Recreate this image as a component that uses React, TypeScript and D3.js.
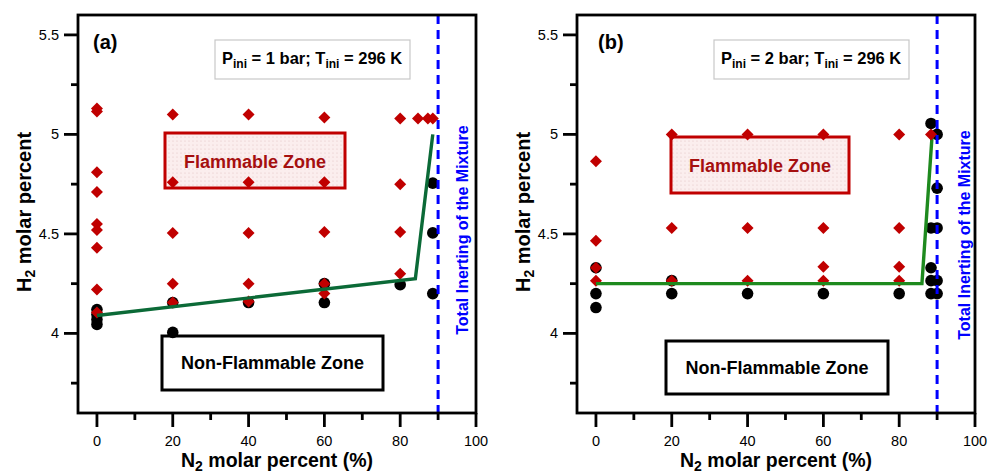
import React from "react";
import * as d3 from "d3";

// ---------- data ----------
type Pt = [number, number];

const xTicksMajor = [0, 20, 40, 60, 80, 100];
const xTicksMinor = [10, 30, 50, 70, 90];
const yTicksMajor = [4, 4.5, 5, 5.5];
const yTicksMinor = [3.75, 4.25, 4.75, 5.25];
const yTickLabels = ["4", "4.5", "5", "5.5"];
const inertLimit = 90;

// Panel (a): P = 1 bar
const flammableA: Pt[] = [
  [0, 5.13], [0, 5.115], [0, 4.81], [0, 4.71], [0, 4.55], [0, 4.52], [0, 4.43], [0, 4.22], [0, 4.105],
  [20, 5.1], [20, 4.76], [20, 4.505], [20, 4.25], [20, 4.155],
  [40, 5.1], [40, 4.76], [40, 4.505], [40, 4.25], [40, 4.16],
  [60, 5.085], [60, 4.76], [60, 4.51], [60, 4.25], [60, 4.2],
  [80, 5.08], [80, 4.75], [80, 4.51], [80, 4.3],
  [84.7, 5.08], [87.3, 5.08], [88.6, 5.08],
];
const nonFlammableA: Pt[] = [
  [0, 4.12], [0, 4.095], [0, 4.07], [0, 4.045],
  [20, 4.155], [20, 4.005],
  [40, 4.155],
  [60, 4.25], [60, 4.155],
  [80, 4.245],
  [88.6, 4.755], [88.6, 4.505], [88.6, 4.2],
];
const limitLineA: Pt[] = [[0, 4.09], [84, 4.275], [88.6, 5.0]];

// Panel (b): P = 2 bar
const flammableB: Pt[] = [
  [0, 4.865], [0, 4.465], [0, 4.33], [0, 4.265],
  [20, 5.0], [20, 4.53], [20, 4.265],
  [40, 5.0], [40, 4.53], [40, 4.265],
  [60, 5.0], [60, 4.53], [60, 4.335], [60, 4.265],
  [80, 5.0], [80, 4.53], [80, 4.335], [80, 4.265],
];
const flammableBTop: Pt[] = [[88.4, 5.0]];
const nonFlammableB: Pt[] = [
  [0, 4.33], [0, 4.2], [0, 4.13],
  [20, 4.265], [20, 4.2],
  [40, 4.2],
  [60, 4.2],
  [80, 4.2],
  [88.4, 5.055], [88.4, 4.53], [88.4, 4.33], [88.4, 4.265], [88.4, 4.2],
  [90, 5.0], [90, 4.73], [90, 4.53], [90, 4.265], [90, 4.2],
];
const limitLineB: Pt[] = [[0, 4.25], [86, 4.25], [88.7, 5.0]];

// ---------- styles ----------
const FONT = "'Liberation Sans', Arial, Helvetica, sans-serif";
const RED = "#c00000";
const DARKRED = "#a50f0f";
const BLUE = "#0000ff";

interface PanelProps {
  id: string;
  ox: number;
  label: string;
  pressure: string;
  flam: Pt[];
  flamTop?: Pt[];
  nonflam: Pt[];
  line: Pt[];
  lineColor: string;
  flamBox: [number, number, number, number, number]; // relx0, relx1, y0, y1, baseline
  nonBox: [number, number, number, number, number];
  labelDx: number;
  blueBase: number;
  blueCy: number;
}

function Panel(p: PanelProps) {
  const W = 398;
  const top = 15;
  const bottom = 413;
  const x = d3.scaleLinear().domain([-5, 100]).range([p.ox, p.ox + W]);
  const y = d3.scaleLinear().domain([3.6, 5.6]).range([bottom, top]);
  const lineGen = d3.line<Pt>().x((d) => x(d[0])).y((d) => y(d[1]));
  const diamond = (d: Pt, i: number) => {
    const cx = x(d[0]);
    const cy = y(d[1]);
    const r = 6;
    return (
      <path
        key={i}
        d={`M${cx},${cy - r}L${cx + r},${cy}L${cx},${cy + r}L${cx - r},${cy}Z`}
        fill={RED}
      />
    );
  };
  const fb = p.flamBox;
  const nb = p.nonBox;
  return (
    <g>
      <defs>
        <pattern id={`dots-${p.id}`} width="4" height="4" patternUnits="userSpaceOnUse">
          <rect width="4" height="4" fill="#fbeeee" />
          <circle cx="1" cy="1" r="0.6" fill="#e3c2c2" />
        </pattern>
      </defs>
      {/* P box */}
      <rect x={p.ox + 137} y={40} width={195} height={39} fill="#fff" stroke="#c8c8c8" strokeWidth={1.2} />
      <text x={p.ox + 144} y={64} fontFamily={FONT} fontWeight="bold" fontSize={16.5} fill="#000">
        P<tspan fontSize={12} dy={4}>ini</tspan>
        <tspan dy={-4}>{` = ${p.pressure} bar; T`}</tspan>
        <tspan fontSize={12} dy={4}>ini</tspan>
        <tspan dy={-4}> = 296 K</tspan>
      </text>
      {/* Flammable zone box */}
      <rect
        x={p.ox + fb[0]}
        y={fb[2]}
        width={fb[1] - fb[0]}
        height={fb[3] - fb[2]}
        fill={`url(#dots-${p.id})`}
        stroke={RED}
        strokeWidth={3}
      />
      <text x={p.ox + (fb[0] + fb[1]) / 2} y={fb[4]} textAnchor="middle" fontFamily={FONT} fontWeight="bold" fontSize={18} fill={DARKRED}>
        Flammable Zone
      </text>
      {/* Non flammable zone box */}
      <rect
        x={p.ox + nb[0]}
        y={nb[2]}
        width={nb[1] - nb[0]}
        height={nb[3] - nb[2]}
        fill="#fff"
        stroke="#000"
        strokeWidth={3}
      />
      <text x={p.ox + (nb[0] + nb[1]) / 2} y={nb[4]} textAnchor="middle" fontFamily={FONT} fontWeight="bold" fontSize={18} fill="#000">
        Non-Flammable Zone
      </text>
      {/* panel label */}
      <text x={p.ox + p.labelDx} y={49} fontFamily={FONT} fontWeight="bold" fontSize={20} fill="#000">
        {p.label}
      </text>

      {/* data */}
      {p.nonflam.map((d, i) => (
        <circle key={i} cx={x(d[0])} cy={y(d[1])} r={5.8} fill="#000" />
      ))}
      {p.flam.map(diamond)}
      <path d={lineGen(p.line) || ""} fill="none" stroke={p.lineColor} strokeWidth={3.4} />
      {(p.flamTop || []).map(diamond)}

      {/* inerting line */}
      <line x1={x(inertLimit)} x2={x(inertLimit)} y1={top} y2={bottom} stroke={BLUE} strokeWidth={3} strokeDasharray="9,6" />
      <text
        transform={`translate(${p.ox + p.blueBase},${p.blueCy}) rotate(-90)`}
        textAnchor="middle"
        fontFamily={FONT}
        fontWeight="bold"
        fontSize={16}
        fill={BLUE}
      >
        Total Inerting of the Mixture
      </text>

      {/* frame */}
      <rect x={p.ox} y={top} width={W} height={bottom - top} fill="none" stroke="#000" strokeWidth={2.8} />

      {/* x ticks */}
      {xTicksMajor.map((t) => (
        <g key={`xm${t}`}>
          <line x1={x(t)} x2={x(t)} y1={bottom} y2={bottom + 14} stroke="#000" strokeWidth={2.8} />
          <text x={x(t)} y={446} textAnchor="middle" fontFamily={FONT} fontSize={14.5} fill="#000">
            {t}
          </text>
        </g>
      ))}
      {xTicksMinor.map((t) => (
        <line key={`xn${t}`} x1={x(t)} x2={x(t)} y1={bottom} y2={bottom + 7} stroke="#000" strokeWidth={2.8} />
      ))}
      {/* y ticks */}
      {yTicksMajor.map((t, i) => (
        <g key={`ym${t}`}>
          <line x1={p.ox - 14} x2={p.ox} y1={y(t)} y2={y(t)} stroke="#000" strokeWidth={2.8} />
          <text x={p.ox - 19} y={y(t) + 5} textAnchor="end" fontFamily={FONT} fontSize={14.5} fill="#000">
            {yTickLabels[i]}
          </text>
        </g>
      ))}
      {yTicksMinor.map((t) => (
        <line key={`yn${t}`} x1={p.ox - 7} x2={p.ox} y1={y(t)} y2={y(t)} stroke="#000" strokeWidth={2.8} />
      ))}

      {/* axis titles */}
      <text
        transform={`translate(${p.ox - 47},212) rotate(-90)`}
        textAnchor="middle"
        fontFamily={FONT}
        fontWeight="bold"
        fontSize={20}
        fill="#000"
      >
        H<tspan fontSize={14} dy={4}>2</tspan>
        <tspan dy={-4}> molar percent</tspan>
      </text>
      <text x={p.ox + W / 2} y={467} textAnchor="middle" fontFamily={FONT} fontWeight="bold" fontSize={19.5} fill="#000">
        N<tspan fontSize={14} dy={4}>2</tspan>
        <tspan dy={-4}> molar percent (%)</tspan>
      </text>
    </g>
  );
}

export default function App() {
  return (
    <svg
      width={988}
      height={473}
      viewBox="0 0 988 473"
      style={{ position: "absolute", left: 0, top: 0, background: "#fff" }}
    >
      <rect width={988} height={473} fill="#fff" />
      <Panel
        id="a"
        ox={78}
        label="(a)"
        pressure="1"
        flam={flammableA}
        nonflam={nonFlammableA}
        line={limitLineA}
        lineColor="#0b6a37"
        flamBox={[87, 267, 133, 188, 168]}
        nonBox={[84, 305, 336, 390, 369]}
        labelDx={15}
        blueBase={390}
        blueCy={230}
      />
      <Panel
        id="b"
        ox={577}
        label="(b)"
        pressure="2"
        flam={flammableB}
        flamTop={flammableBTop}
        nonflam={nonFlammableB}
        line={limitLineB}
        lineColor="#1e8a1e"
        flamBox={[94, 272, 137, 193, 172]}
        nonBox={[89, 311, 341, 394, 374]}
        labelDx={21}
        blueBase={393}
        blueCy={235}
      />
    </svg>
  );
}
